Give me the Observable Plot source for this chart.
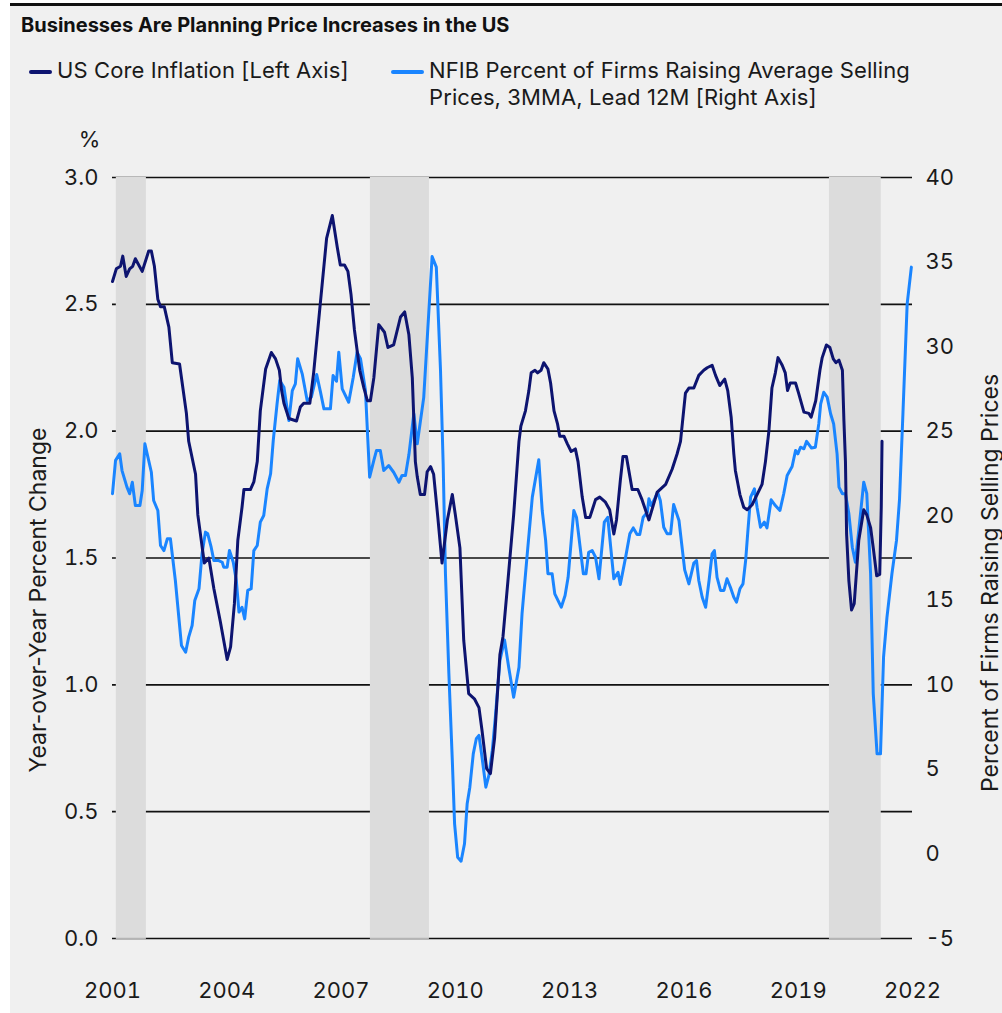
<!DOCTYPE html>
<html>
<head>
<meta charset="utf-8">
<script src="https://cdn.jsdelivr.net/npm/d3@7"></script>
<script src="https://cdn.jsdelivr.net/npm/@observablehq/plot@0.6"></script>
<style>
  html, body { margin: 0; padding: 0; background: #ffffff; }
  body { width: 1002px; height: 1013px; position: relative; overflow: hidden; font-family: Inter, "Noto Sans", sans-serif; color: #1a1a1a; }
  #panel { position: absolute; left: 10px; top: 3px; width: 992px; height: 1010px; background: #f0f0f0; border-top: 3px solid #111; box-sizing: border-box; }
  #title { position: absolute; left: 21px; top: 15px; font-size: 20px; line-height: 20px; font-weight: 700; letter-spacing: 0px; color: #111; white-space: nowrap; }
  .leg { position: absolute; font-size: 22px; line-height: 27px; color: #1a1a1a; white-space: nowrap; letter-spacing: 0.1px; }
  .sw { position: absolute; height: 4px; border-radius: 2px; }
  #chart { position: absolute; left: 0; top: 120px; }
</style>
</head>
<body>
<div id="panel"></div>
<div id="title">Businesses Are Planning Price Increases in the US</div>
<div class="sw" style="left:29px; top:70px; width:23px; background:#0d1470;"></div>
<div class="leg" style="left:57px; top:57px;">US Core Inflation [Left Axis]</div>
<div class="sw" style="left:391px; top:70px; width:33px; background:#1a85ff;"></div>
<div class="leg" style="left:429px; top:57px;">NFIB Percent of Firms Raising Average Selling<br>Prices, 3MMA, Lead 12M [Right Axis]</div>
<div id="chart"></div>
<script>
// ---- data (decimal years) ----
const coreDates = [2001.00,2001.10,2001.21,2001.27,2001.36,2001.45,2001.53,2001.60,2001.78,2001.95,2002.02,2002.10,2002.19,2002.26,2002.36,2002.48,2002.57,2002.76,2002.94,2003.00,2003.18,2003.24,2003.41,2003.53,2003.66,2003.83,2004.01,2004.10,2004.20,2004.29,2004.40,2004.45,2004.62,2004.71,2004.80,2004.88,2005.02,2005.17,2005.28,2005.38,2005.44,2005.50,2005.63,2005.83,2005.93,2006.02,2006.18,2006.28,2006.44,2006.62,2006.77,2006.90,2006.98,2007.09,2007.18,2007.26,2007.35,2007.49,2007.60,2007.69,2007.77,2007.86,2007.99,2008.14,2008.23,2008.38,2008.56,2008.67,2008.78,2008.87,2008.95,2009.00,2009.08,2009.19,2009.26,2009.35,2009.43,2009.54,2009.65,2009.79,2009.92,2010.00,2010.12,2010.22,2010.35,2010.50,2010.62,2010.70,2010.82,2010.92,2011.03,2011.17,2011.25,2011.38,2011.53,2011.67,2011.72,2011.84,2011.93,2011.99,2012.09,2012.16,2012.25,2012.32,2012.43,2012.50,2012.59,2012.68,2012.74,2012.85,2012.94,2013.04,2013.15,2013.22,2013.33,2013.42,2013.53,2013.68,2013.79,2013.94,2014.05,2014.16,2014.23,2014.33,2014.40,2014.49,2014.64,2014.79,2014.90,2015.08,2015.30,2015.52,2015.69,2015.82,2015.91,2016.04,2016.13,2016.26,2016.39,2016.52,2016.61,2016.74,2016.83,2016.94,2017.07,2017.15,2017.24,2017.31,2017.35,2017.47,2017.57,2017.66,2017.79,2017.92,2018.05,2018.14,2018.20,2018.23,2018.31,2018.40,2018.47,2018.58,2018.66,2018.72,2018.79,2018.93,2019.01,2019.15,2019.28,2019.34,2019.46,2019.57,2019.63,2019.74,2019.83,2019.92,2019.99,2020.07,2020.16,2020.20,2020.24,2020.27,2020.33,2020.40,2020.47,2020.59,2020.72,2020.80,2020.90,2020.97,2021.06,2021.14,2021.18,2021.20];
const coreValues = [2.59,2.64,2.65,2.69,2.61,2.64,2.65,2.68,2.63,2.71,2.71,2.65,2.52,2.49,2.49,2.41,2.27,2.265,2.07,1.96,1.83,1.67,1.48,1.50,1.38,1.25,1.10,1.15,1.32,1.57,1.70,1.77,1.77,1.80,1.88,2.08,2.245,2.31,2.285,2.24,2.16,2.11,2.05,2.04,2.095,2.11,2.11,2.23,2.48,2.76,2.85,2.725,2.655,2.655,2.63,2.54,2.40,2.24,2.17,2.12,2.12,2.21,2.42,2.39,2.33,2.34,2.45,2.47,2.38,2.21,1.88,1.82,1.75,1.75,1.84,1.86,1.83,1.66,1.48,1.65,1.75,1.67,1.54,1.175,0.965,0.945,0.91,0.82,0.67,0.65,0.79,1.12,1.19,1.41,1.67,1.96,2.02,2.08,2.16,2.23,2.24,2.23,2.24,2.27,2.245,2.19,2.08,2.03,1.98,1.98,1.95,1.92,1.93,1.88,1.74,1.66,1.66,1.73,1.74,1.72,1.69,1.595,1.65,1.805,1.90,1.90,1.77,1.77,1.73,1.65,1.76,1.79,1.85,1.91,1.96,2.15,2.17,2.17,2.22,2.24,2.25,2.26,2.22,2.18,2.205,2.16,2.055,1.91,1.845,1.75,1.70,1.69,1.71,1.75,1.79,1.88,1.96,2.00,2.17,2.23,2.29,2.26,2.23,2.16,2.19,2.19,2.15,2.075,2.07,2.055,2.12,2.24,2.29,2.34,2.33,2.285,2.27,2.28,2.24,2.04,1.88,1.595,1.41,1.295,1.32,1.57,1.69,1.67,1.62,1.54,1.43,1.435,1.70,1.96];

const nfibDates = [2001.00,2001.08,2001.19,2001.25,2001.38,2001.45,2001.52,2001.60,2001.72,2001.78,2001.85,2001.91,2002.02,2002.08,2002.19,2002.26,2002.35,2002.44,2002.52,2002.65,2002.81,2002.92,2003.00,2003.09,2003.16,2003.27,2003.35,2003.44,2003.50,2003.59,2003.66,2003.79,2003.88,2003.92,2004.01,2004.07,2004.17,2004.25,2004.32,2004.40,2004.47,2004.55,2004.64,2004.71,2004.80,2004.88,2004.97,2005.06,2005.15,2005.22,2005.32,2005.39,2005.50,2005.63,2005.72,2005.80,2005.86,2005.98,2006.11,2006.22,2006.36,2006.46,2006.55,2006.72,2006.79,2006.88,2006.94,2007.03,2007.20,2007.32,2007.42,2007.51,2007.64,2007.75,2007.86,2007.93,2008.03,2008.12,2008.25,2008.38,2008.52,2008.60,2008.69,2008.78,2008.91,2009.00,2009.17,2009.39,2009.50,2009.61,2009.68,2009.74,2009.83,2009.92,2009.98,2010.06,2010.15,2010.24,2010.31,2010.38,2010.47,2010.55,2010.62,2010.70,2010.80,2010.88,2010.97,2011.05,2011.17,2011.29,2011.40,2011.53,2011.67,2011.75,2011.88,2012.02,2012.19,2012.28,2012.37,2012.43,2012.54,2012.61,2012.78,2012.88,2012.96,2013.11,2013.18,2013.36,2013.43,2013.50,2013.59,2013.68,2013.77,2013.91,2014.00,2014.16,2014.27,2014.33,2014.47,2014.58,2014.67,2014.77,2014.84,2014.93,2015.04,2015.08,2015.14,2015.21,2015.31,2015.38,2015.47,2015.56,2015.65,2015.73,2015.87,2016.02,2016.13,2016.26,2016.33,2016.39,2016.48,2016.57,2016.66,2016.74,2016.80,2016.87,2016.96,2017.05,2017.13,2017.22,2017.31,2017.38,2017.47,2017.55,2017.62,2017.68,2017.75,2017.85,2017.92,2018.01,2018.11,2018.18,2018.29,2018.40,2018.52,2018.62,2018.71,2018.84,2018.93,2018.99,2019.06,2019.15,2019.22,2019.35,2019.45,2019.54,2019.59,2019.67,2019.76,2019.85,2019.93,2020.02,2020.07,2020.16,2020.24,2020.33,2020.42,2020.50,2020.59,2020.72,2020.80,2020.90,2020.97,2021.07,2021.16,2021.24,2021.33,2021.46,2021.58,2021.66,2021.75,2021.86,2021.97];
const nfibValues = [21.3,23.27,23.66,22.67,21.69,21.3,21.98,20.6,20.6,21.49,24.25,23.66,22.57,20.9,20.31,18.24,17.94,18.64,18.64,16.17,12.33,11.93,12.82,13.51,14.99,15.68,17.75,19.03,18.93,18.14,17.35,17.35,17.25,16.96,16.96,17.94,17.25,16.17,14.3,14.59,13.9,15.58,15.68,17.94,18.24,19.62,20.01,21.59,22.48,24.45,26.62,28.0,27.6,25.63,27.4,27.8,29.28,28.39,26.81,27.01,28.35,27.31,26.32,26.32,28.29,27.95,29.67,27.5,26.71,28.19,29.67,29.28,27.4,22.28,23.27,23.86,23.86,22.67,22.97,22.57,21.98,22.38,22.38,23.6,26.03,24.25,27.0,35.33,34.7,28.6,23.07,16.57,10.65,5.53,1.78,-0.19,-0.43,0.6,2.97,3.95,5.92,6.81,7.01,5.72,3.95,4.64,6.12,8.09,11.44,12.66,11.04,9.27,11.04,14.19,17.55,21.1,23.31,20.31,18.54,16.57,16.57,15.38,14.59,15.28,16.36,20.31,19.91,16.57,16.57,17.84,17.94,17.55,16.27,19.62,19.91,16.27,16.66,15.93,17.55,18.93,19.28,18.89,18.89,19.91,20.21,21.0,20.6,20.9,21.39,20.9,19.32,18.93,18.93,20.66,19.72,16.8,15.97,17.2,17.35,16.17,15.18,14.59,16.17,17.75,17.94,16.36,15.58,15.58,16.27,15.77,15.18,14.89,15.68,15.97,17.35,19.13,21.1,21.59,20.5,19.32,19.62,19.28,20.94,20.6,20.31,21.3,22.38,22.91,23.86,23.66,24.05,23.96,24.4,24.0,24.05,25.43,26.61,27.3,27.01,26.03,25.43,23.66,21.69,21.3,21.3,20.11,18.14,17.25,19.13,21.98,21.3,16.57,9.47,5.92,5.92,11.64,14.0,16.57,18.54,21.0,26.1,32.53,34.7];

const recessionStarts = [2001.10, 2007.77, 2019.82];
const recessionEnds   = [2001.89, 2009.32, 2021.18];

const leftTicks  = [0, 0.5, 1.0, 1.5, 2.0, 2.5, 3.0];
const rightTicks = [-5, 0, 5, 10, 15, 20, 25, 30, 35, 40];
const xTicks     = [2001, 2004, 2007, 2010, 2013, 2016, 2019, 2022];

const navy = "#0d1470";
const blue = "#1a85ff";

// right axis (-5..40) mapped onto left axis (0..3)
const toLeft = v => (v + 5) / 15;
const fromLeft = y => Math.round(y * 15 - 5);

const core = coreDates.map((d, i) => ({x: d, y: coreValues[i]}));
const nfib = nfibDates.map((d, i) => ({x: d, v: nfibValues[i]}));
const recessions = recessionStarts.map((s, i) => ({start: s, end: recessionEnds[i]}));

const chart = Plot.plot({
  width: 1002,
  height: 893,
  marginTop: 57,
  marginBottom: 75,
  marginLeft: 112,
  marginRight: 90,
  style: {background: "transparent", fontFamily: "Inter, 'Noto Sans', sans-serif", fontSize: "22px", color: "#1a1a1a", overflow: "visible"},
  x: {type: "linear", domain: [2001, 2022]},
  y: {domain: [0, 3]},
  marks: [
    Plot.ruleY(leftTicks, {stroke: "#111", strokeWidth: 1.6}),
    Plot.rect(recessions, {x1: "start", x2: "end", y1: 0, y2: 3, fill: "#dcdcdc"}),
    Plot.ruleY(recessions, {y: 0, x1: "start", x2: "end", stroke: "#b4b4b4", strokeWidth: 1.5}),
    Plot.line(nfib, {x: "x", y: d => toLeft(d.v), stroke: blue, strokeWidth: 3, strokeLinejoin: "round"}),
    Plot.line(core, {x: "x", y: "y", stroke: navy, strokeWidth: 3, strokeLinejoin: "round"}),
    Plot.axisX({ticks: xTicks, tickFormat: d => String(d), tickSize: 0, tickPadding: 44, label: null}),
    Plot.axisY({ticks: leftTicks, tickFormat: d3.format(".1f"), tickSize: 0, tickPadding: 14, label: null}),
    Plot.axisY({anchor: "right", ticks: rightTicks.map(toLeft), tickFormat: d => String(fromLeft(d)), tickSize: 0, tickPadding: 13, label: null}),
    Plot.text(["Year-over-Year Percent Change"], {frameAnchor: "left", rotate: -90, dx: -74, dy: 42, fontSize: 23, textAnchor: "middle", lineAnchor: "middle"}),
    Plot.text(["Percent of Firms Raising Selling Prices"], {frameAnchor: "right", rotate: -90, dx: 78, dy: 25, fontSize: 23, textAnchor: "middle", lineAnchor: "middle"}),
    Plot.text(["%"], {frameAnchor: "top-left", dx: -23, dy: -38, textAnchor: "middle", lineAnchor: "middle"})
  ]
});
document.getElementById("chart").appendChild(chart);
</script>
</body>
</html>
